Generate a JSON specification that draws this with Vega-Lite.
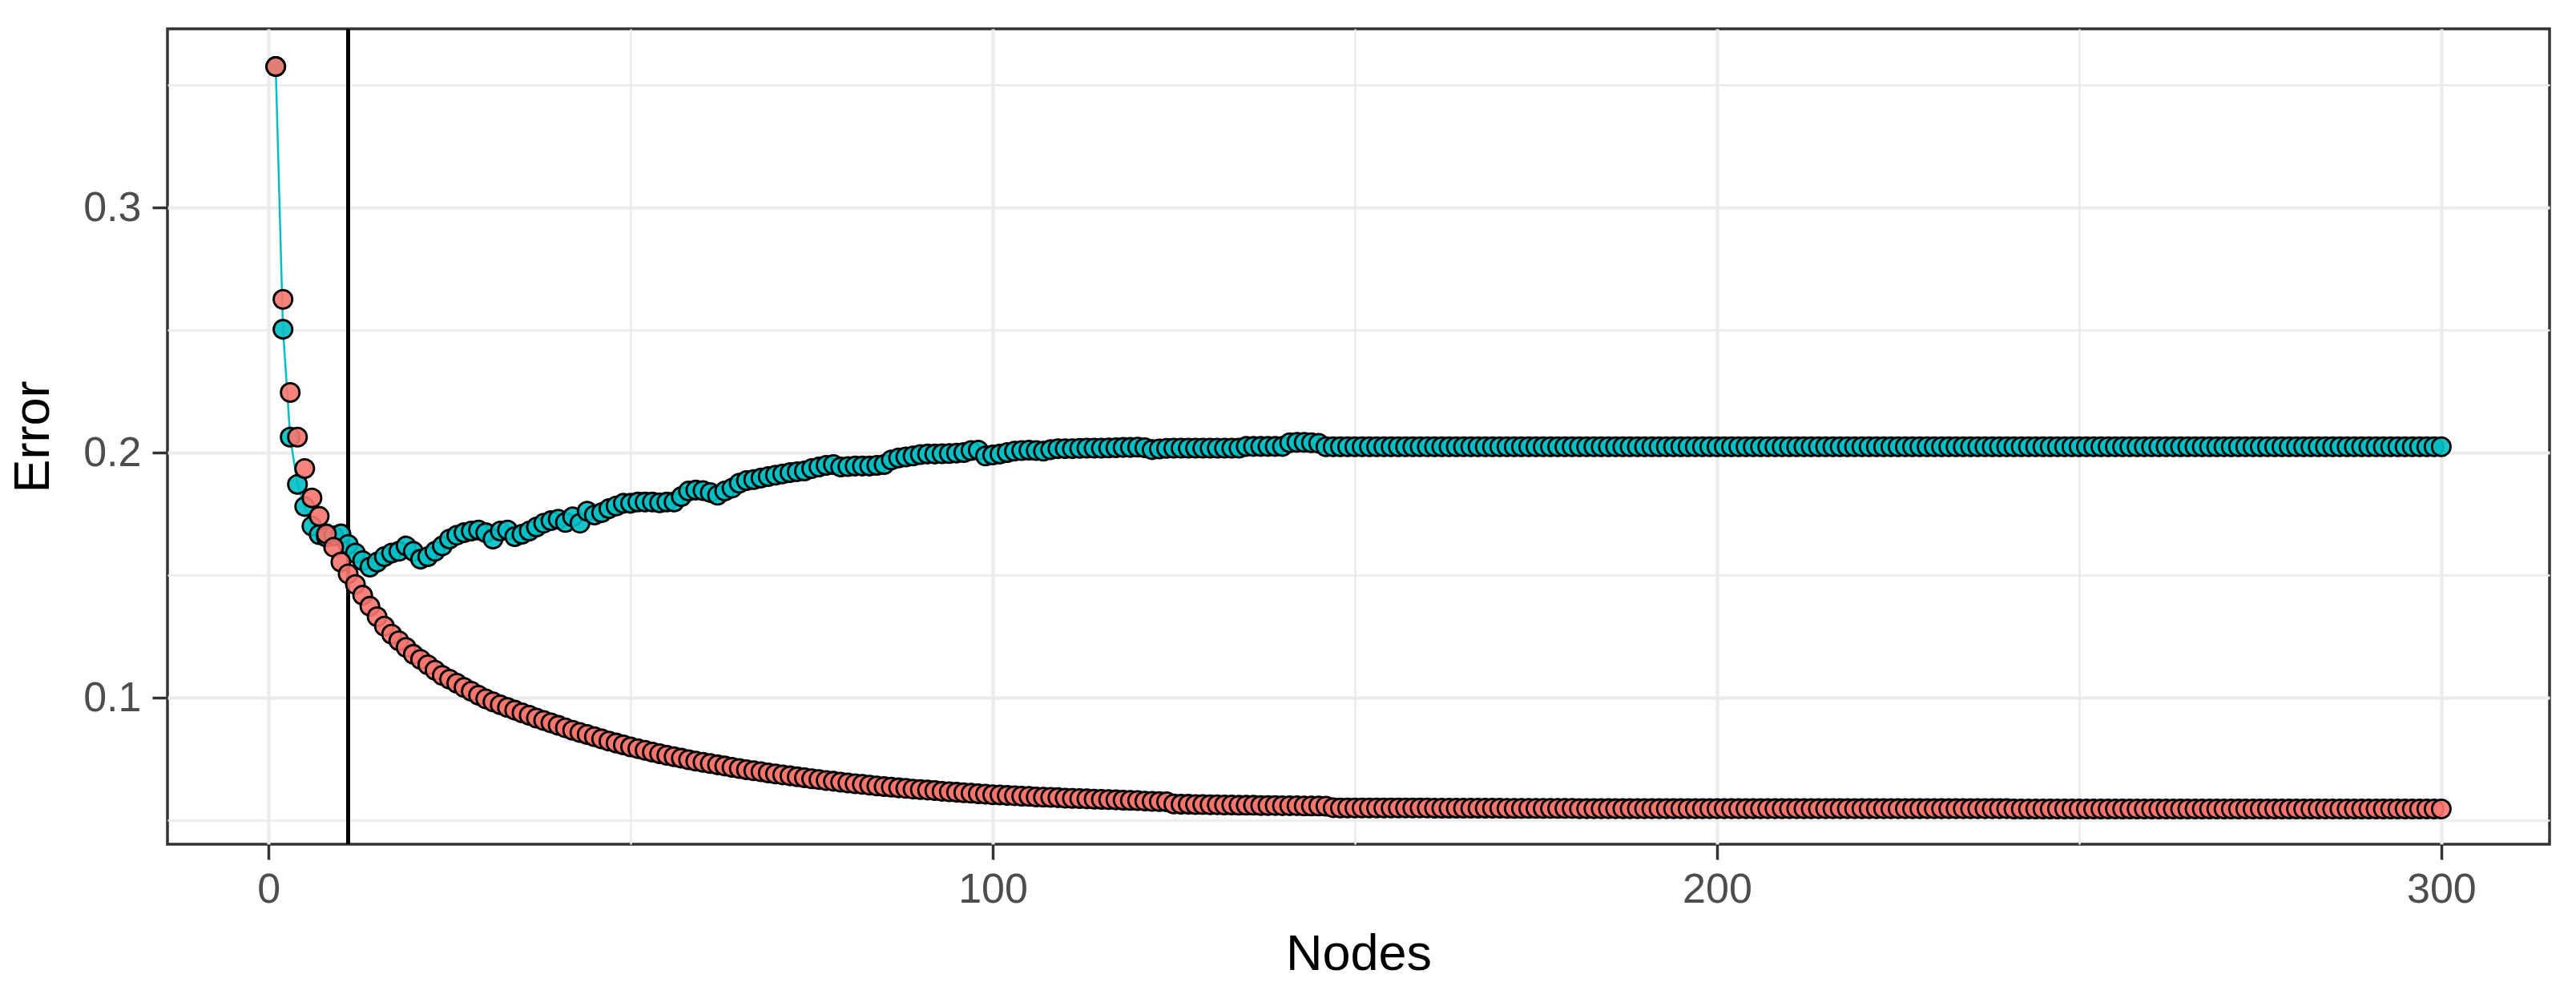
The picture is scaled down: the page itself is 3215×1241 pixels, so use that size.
{
  "$schema": "https://vega.github.io/schema/vega-lite/v6.json",
  "width": 2973,
  "height": 1018,
  "autosize": {"type": "none"},
  "padding": {"left": 209, "top": 36, "right": 33, "bottom": 187},
  "background": "white",
  "data": {
    "values": [
      {"n": 1, "Train": 0.3575, "Test": 0.3575},
      {"n": 2, "Train": 0.2625, "Test": 0.2503},
      {"n": 3, "Train": 0.2245, "Test": 0.2063},
      {"n": 4, "Train": 0.2063, "Test": 0.187},
      {"n": 5, "Train": 0.1935, "Test": 0.178},
      {"n": 6, "Train": 0.1815, "Test": 0.17},
      {"n": 7, "Train": 0.174, "Test": 0.1665},
      {"n": 8, "Train": 0.1668, "Test": 0.1655},
      {"n": 9, "Train": 0.1614, "Test": 0.166},
      {"n": 10, "Train": 0.1553, "Test": 0.1668},
      {"n": 11, "Train": 0.1505, "Test": 0.1625},
      {"n": 12, "Train": 0.1462, "Test": 0.159},
      {"n": 13, "Train": 0.1418, "Test": 0.1559},
      {"n": 14, "Train": 0.1373, "Test": 0.1533},
      {"n": 15, "Train": 0.133, "Test": 0.1553},
      {"n": 16, "Train": 0.1292, "Test": 0.1575},
      {"n": 17, "Train": 0.1259, "Test": 0.159},
      {"n": 18, "Train": 0.1232, "Test": 0.1597},
      {"n": 19, "Train": 0.1205, "Test": 0.1619},
      {"n": 20, "Train": 0.1177, "Test": 0.1597},
      {"n": 21, "Train": 0.1156, "Test": 0.1565},
      {"n": 22, "Train": 0.1134, "Test": 0.1575},
      {"n": 23, "Train": 0.1112, "Test": 0.1597},
      {"n": 24, "Train": 0.1091, "Test": 0.1619},
      {"n": 25, "Train": 0.1075, "Test": 0.1647},
      {"n": 26, "Train": 0.1059, "Test": 0.1663},
      {"n": 27, "Train": 0.1042, "Test": 0.1673},
      {"n": 28, "Train": 0.1026, "Test": 0.168},
      {"n": 29, "Train": 0.101, "Test": 0.1684},
      {"n": 30, "Train": 0.0995, "Test": 0.1673},
      {"n": 31, "Train": 0.0983, "Test": 0.1647},
      {"n": 32, "Train": 0.0971, "Test": 0.168},
      {"n": 33, "Train": 0.096, "Test": 0.1684},
      {"n": 34, "Train": 0.0949, "Test": 0.1657},
      {"n": 35, "Train": 0.0938, "Test": 0.1667},
      {"n": 36, "Train": 0.0928, "Test": 0.168},
      {"n": 37, "Train": 0.0917, "Test": 0.1696},
      {"n": 38, "Train": 0.0907, "Test": 0.1712},
      {"n": 39, "Train": 0.0897, "Test": 0.1722},
      {"n": 40, "Train": 0.0887, "Test": 0.1728},
      {"n": 41, "Train": 0.0877, "Test": 0.1715},
      {"n": 42, "Train": 0.0867, "Test": 0.1738},
      {"n": 43, "Train": 0.0858, "Test": 0.1712},
      {"n": 44, "Train": 0.085, "Test": 0.1761},
      {"n": 45, "Train": 0.0841, "Test": 0.1745},
      {"n": 46, "Train": 0.0832, "Test": 0.1755},
      {"n": 47, "Train": 0.0823, "Test": 0.1771},
      {"n": 48, "Train": 0.0815, "Test": 0.1782},
      {"n": 49, "Train": 0.0807, "Test": 0.1793},
      {"n": 50, "Train": 0.0799, "Test": 0.1793},
      {"n": 51, "Train": 0.0792, "Test": 0.1798},
      {"n": 52, "Train": 0.0785, "Test": 0.1798},
      {"n": 53, "Train": 0.0778, "Test": 0.1798},
      {"n": 54, "Train": 0.0771, "Test": 0.1795},
      {"n": 55, "Train": 0.0765, "Test": 0.1798},
      {"n": 56, "Train": 0.0759, "Test": 0.1798},
      {"n": 57, "Train": 0.0753, "Test": 0.182},
      {"n": 58, "Train": 0.0747, "Test": 0.1843},
      {"n": 59, "Train": 0.0741, "Test": 0.1847},
      {"n": 60, "Train": 0.0736, "Test": 0.1845},
      {"n": 61, "Train": 0.0731, "Test": 0.1837},
      {"n": 62, "Train": 0.0726, "Test": 0.1826},
      {"n": 63, "Train": 0.0721, "Test": 0.1843},
      {"n": 64, "Train": 0.0716, "Test": 0.1855},
      {"n": 65, "Train": 0.0711, "Test": 0.1875},
      {"n": 66, "Train": 0.0706, "Test": 0.1886},
      {"n": 67, "Train": 0.0702, "Test": 0.189},
      {"n": 68, "Train": 0.0698, "Test": 0.1896},
      {"n": 69, "Train": 0.0693, "Test": 0.1902},
      {"n": 70, "Train": 0.0689, "Test": 0.1908},
      {"n": 71, "Train": 0.0685, "Test": 0.1913},
      {"n": 72, "Train": 0.0681, "Test": 0.1918},
      {"n": 73, "Train": 0.0677, "Test": 0.1922},
      {"n": 74, "Train": 0.0673, "Test": 0.1925},
      {"n": 75, "Train": 0.0669, "Test": 0.1935},
      {"n": 76, "Train": 0.0666, "Test": 0.1941},
      {"n": 77, "Train": 0.0662, "Test": 0.1948},
      {"n": 78, "Train": 0.0659, "Test": 0.1951},
      {"n": 79, "Train": 0.0655, "Test": 0.1941},
      {"n": 80, "Train": 0.0652, "Test": 0.1943},
      {"n": 81, "Train": 0.0649, "Test": 0.1945},
      {"n": 82, "Train": 0.0646, "Test": 0.1945},
      {"n": 83, "Train": 0.0643, "Test": 0.1945},
      {"n": 84, "Train": 0.064, "Test": 0.1948},
      {"n": 85, "Train": 0.0637, "Test": 0.1951},
      {"n": 86, "Train": 0.0635, "Test": 0.197},
      {"n": 87, "Train": 0.0632, "Test": 0.1978},
      {"n": 88, "Train": 0.063, "Test": 0.1982},
      {"n": 89, "Train": 0.0627, "Test": 0.1986},
      {"n": 90, "Train": 0.0625, "Test": 0.1992},
      {"n": 91, "Train": 0.0623, "Test": 0.1994},
      {"n": 92, "Train": 0.0621, "Test": 0.1994},
      {"n": 93, "Train": 0.0618, "Test": 0.1995},
      {"n": 94, "Train": 0.0616, "Test": 0.1996},
      {"n": 95, "Train": 0.0614, "Test": 0.1998},
      {"n": 96, "Train": 0.0612, "Test": 0.2},
      {"n": 97, "Train": 0.061, "Test": 0.2008},
      {"n": 98, "Train": 0.0608, "Test": 0.201},
      {"n": 99, "Train": 0.0606, "Test": 0.1986},
      {"n": 100, "Train": 0.0604, "Test": 0.199},
      {"n": 101, "Train": 0.0603, "Test": 0.1994},
      {"n": 102, "Train": 0.0601, "Test": 0.2},
      {"n": 103, "Train": 0.06, "Test": 0.2006},
      {"n": 104, "Train": 0.0598, "Test": 0.2008},
      {"n": 105, "Train": 0.0597, "Test": 0.201},
      {"n": 106, "Train": 0.0595, "Test": 0.2008},
      {"n": 107, "Train": 0.0594, "Test": 0.2006},
      {"n": 108, "Train": 0.0593, "Test": 0.2012},
      {"n": 109, "Train": 0.0592, "Test": 0.2016},
      {"n": 110, "Train": 0.059, "Test": 0.2016},
      {"n": 111, "Train": 0.0589, "Test": 0.2016},
      {"n": 112, "Train": 0.0588, "Test": 0.2017},
      {"n": 113, "Train": 0.0587, "Test": 0.2018},
      {"n": 114, "Train": 0.0586, "Test": 0.2018},
      {"n": 115, "Train": 0.0585, "Test": 0.2018},
      {"n": 116, "Train": 0.0584, "Test": 0.2019},
      {"n": 117, "Train": 0.0583, "Test": 0.202},
      {"n": 118, "Train": 0.0582, "Test": 0.2021},
      {"n": 119, "Train": 0.0581, "Test": 0.2021},
      {"n": 120, "Train": 0.058, "Test": 0.2022},
      {"n": 121, "Train": 0.0578, "Test": 0.202},
      {"n": 122, "Train": 0.0577, "Test": 0.2012},
      {"n": 123, "Train": 0.0576, "Test": 0.2015},
      {"n": 124, "Train": 0.0575, "Test": 0.2017},
      {"n": 125, "Train": 0.0566, "Test": 0.2018},
      {"n": 126, "Train": 0.0565, "Test": 0.2018},
      {"n": 127, "Train": 0.0565, "Test": 0.2018},
      {"n": 128, "Train": 0.0564, "Test": 0.2018},
      {"n": 129, "Train": 0.0564, "Test": 0.2018},
      {"n": 130, "Train": 0.0563, "Test": 0.2018},
      {"n": 131, "Train": 0.0563, "Test": 0.2018},
      {"n": 132, "Train": 0.0562, "Test": 0.2018},
      {"n": 133, "Train": 0.0562, "Test": 0.2018},
      {"n": 134, "Train": 0.0561, "Test": 0.2018},
      {"n": 135, "Train": 0.0561, "Test": 0.2025},
      {"n": 136, "Train": 0.0561, "Test": 0.2025},
      {"n": 137, "Train": 0.056, "Test": 0.2025},
      {"n": 138, "Train": 0.056, "Test": 0.2025},
      {"n": 139, "Train": 0.056, "Test": 0.2025},
      {"n": 140, "Train": 0.0559, "Test": 0.2025},
      {"n": 141, "Train": 0.0559, "Test": 0.204},
      {"n": 142, "Train": 0.0559, "Test": 0.2042},
      {"n": 143, "Train": 0.0558, "Test": 0.2042},
      {"n": 144, "Train": 0.0558, "Test": 0.204},
      {"n": 145, "Train": 0.0558, "Test": 0.2038},
      {"n": 146, "Train": 0.0557, "Test": 0.2024},
      {"n": 147, "Train": 0.0551, "Test": 0.2024},
      {"n": 148, "Train": 0.055, "Test": 0.2024},
      {"n": 149, "Train": 0.055, "Test": 0.2024},
      {"n": 150, "Train": 0.055, "Test": 0.2024},
      {"n": 151, "Train": 0.055, "Test": 0.2024},
      {"n": 152, "Train": 0.055, "Test": 0.2024},
      {"n": 153, "Train": 0.055, "Test": 0.2024},
      {"n": 154, "Train": 0.055, "Test": 0.2024},
      {"n": 155, "Train": 0.055, "Test": 0.2024},
      {"n": 156, "Train": 0.055, "Test": 0.2024},
      {"n": 157, "Train": 0.055, "Test": 0.2024},
      {"n": 158, "Train": 0.055, "Test": 0.2024},
      {"n": 159, "Train": 0.055, "Test": 0.2024},
      {"n": 160, "Train": 0.055, "Test": 0.2024},
      {"n": 161, "Train": 0.0549, "Test": 0.2024},
      {"n": 162, "Train": 0.0549, "Test": 0.2024},
      {"n": 163, "Train": 0.0549, "Test": 0.2024},
      {"n": 164, "Train": 0.0549, "Test": 0.2024},
      {"n": 165, "Train": 0.0549, "Test": 0.2024},
      {"n": 166, "Train": 0.0549, "Test": 0.2024},
      {"n": 167, "Train": 0.0549, "Test": 0.2024},
      {"n": 168, "Train": 0.0549, "Test": 0.2024},
      {"n": 169, "Train": 0.0549, "Test": 0.2024},
      {"n": 170, "Train": 0.0549, "Test": 0.2024},
      {"n": 171, "Train": 0.0548, "Test": 0.2024},
      {"n": 172, "Train": 0.0548, "Test": 0.2024},
      {"n": 173, "Train": 0.0548, "Test": 0.2024},
      {"n": 174, "Train": 0.0548, "Test": 0.2024},
      {"n": 175, "Train": 0.0548, "Test": 0.2024},
      {"n": 176, "Train": 0.0548, "Test": 0.2024},
      {"n": 177, "Train": 0.0548, "Test": 0.2024},
      {"n": 178, "Train": 0.0548, "Test": 0.2024},
      {"n": 179, "Train": 0.0548, "Test": 0.2024},
      {"n": 180, "Train": 0.0548, "Test": 0.2024},
      {"n": 181, "Train": 0.0547, "Test": 0.2024},
      {"n": 182, "Train": 0.0547, "Test": 0.2024},
      {"n": 183, "Train": 0.0547, "Test": 0.2024},
      {"n": 184, "Train": 0.0547, "Test": 0.2024},
      {"n": 185, "Train": 0.0547, "Test": 0.2024},
      {"n": 186, "Train": 0.0547, "Test": 0.2024},
      {"n": 187, "Train": 0.0547, "Test": 0.2024},
      {"n": 188, "Train": 0.0547, "Test": 0.2024},
      {"n": 189, "Train": 0.0547, "Test": 0.2024},
      {"n": 190, "Train": 0.0547, "Test": 0.2024},
      {"n": 191, "Train": 0.0547, "Test": 0.2024},
      {"n": 192, "Train": 0.0547, "Test": 0.2024},
      {"n": 193, "Train": 0.0547, "Test": 0.2024},
      {"n": 194, "Train": 0.0547, "Test": 0.2024},
      {"n": 195, "Train": 0.0547, "Test": 0.2024},
      {"n": 196, "Train": 0.0547, "Test": 0.2024},
      {"n": 197, "Train": 0.0547, "Test": 0.2024},
      {"n": 198, "Train": 0.0547, "Test": 0.2024},
      {"n": 199, "Train": 0.0547, "Test": 0.2024},
      {"n": 200, "Train": 0.0547, "Test": 0.2024},
      {"n": 201, "Train": 0.0547, "Test": 0.2024},
      {"n": 202, "Train": 0.0547, "Test": 0.2024},
      {"n": 203, "Train": 0.0547, "Test": 0.2024},
      {"n": 204, "Train": 0.0547, "Test": 0.2024},
      {"n": 205, "Train": 0.0547, "Test": 0.2024},
      {"n": 206, "Train": 0.0547, "Test": 0.2024},
      {"n": 207, "Train": 0.0547, "Test": 0.2024},
      {"n": 208, "Train": 0.0547, "Test": 0.2024},
      {"n": 209, "Train": 0.0547, "Test": 0.2024},
      {"n": 210, "Train": 0.0547, "Test": 0.2024},
      {"n": 211, "Train": 0.0547, "Test": 0.2024},
      {"n": 212, "Train": 0.0547, "Test": 0.2024},
      {"n": 213, "Train": 0.0547, "Test": 0.2024},
      {"n": 214, "Train": 0.0547, "Test": 0.2024},
      {"n": 215, "Train": 0.0547, "Test": 0.2024},
      {"n": 216, "Train": 0.0547, "Test": 0.2024},
      {"n": 217, "Train": 0.0547, "Test": 0.2024},
      {"n": 218, "Train": 0.0547, "Test": 0.2024},
      {"n": 219, "Train": 0.0547, "Test": 0.2024},
      {"n": 220, "Train": 0.0547, "Test": 0.2024},
      {"n": 221, "Train": 0.0547, "Test": 0.2024},
      {"n": 222, "Train": 0.0547, "Test": 0.2024},
      {"n": 223, "Train": 0.0547, "Test": 0.2024},
      {"n": 224, "Train": 0.0547, "Test": 0.2024},
      {"n": 225, "Train": 0.0547, "Test": 0.2024},
      {"n": 226, "Train": 0.0547, "Test": 0.2024},
      {"n": 227, "Train": 0.0547, "Test": 0.2024},
      {"n": 228, "Train": 0.0547, "Test": 0.2024},
      {"n": 229, "Train": 0.0547, "Test": 0.2024},
      {"n": 230, "Train": 0.0547, "Test": 0.2024},
      {"n": 231, "Train": 0.0547, "Test": 0.2024},
      {"n": 232, "Train": 0.0547, "Test": 0.2024},
      {"n": 233, "Train": 0.0547, "Test": 0.2024},
      {"n": 234, "Train": 0.0547, "Test": 0.2024},
      {"n": 235, "Train": 0.0547, "Test": 0.2024},
      {"n": 236, "Train": 0.0547, "Test": 0.2024},
      {"n": 237, "Train": 0.0547, "Test": 0.2024},
      {"n": 238, "Train": 0.0547, "Test": 0.2024},
      {"n": 239, "Train": 0.0547, "Test": 0.2024},
      {"n": 240, "Train": 0.0547, "Test": 0.2024},
      {"n": 241, "Train": 0.0546, "Test": 0.2024},
      {"n": 242, "Train": 0.0546, "Test": 0.2024},
      {"n": 243, "Train": 0.0546, "Test": 0.2024},
      {"n": 244, "Train": 0.0546, "Test": 0.2024},
      {"n": 245, "Train": 0.0546, "Test": 0.2024},
      {"n": 246, "Train": 0.0546, "Test": 0.2024},
      {"n": 247, "Train": 0.0546, "Test": 0.2024},
      {"n": 248, "Train": 0.0546, "Test": 0.2024},
      {"n": 249, "Train": 0.0546, "Test": 0.2024},
      {"n": 250, "Train": 0.0546, "Test": 0.2024},
      {"n": 251, "Train": 0.0546, "Test": 0.2024},
      {"n": 252, "Train": 0.0546, "Test": 0.2024},
      {"n": 253, "Train": 0.0546, "Test": 0.2024},
      {"n": 254, "Train": 0.0546, "Test": 0.2024},
      {"n": 255, "Train": 0.0546, "Test": 0.2024},
      {"n": 256, "Train": 0.0546, "Test": 0.2024},
      {"n": 257, "Train": 0.0546, "Test": 0.2024},
      {"n": 258, "Train": 0.0546, "Test": 0.2024},
      {"n": 259, "Train": 0.0546, "Test": 0.2024},
      {"n": 260, "Train": 0.0546, "Test": 0.2024},
      {"n": 261, "Train": 0.0546, "Test": 0.2024},
      {"n": 262, "Train": 0.0546, "Test": 0.2024},
      {"n": 263, "Train": 0.0546, "Test": 0.2024},
      {"n": 264, "Train": 0.0546, "Test": 0.2024},
      {"n": 265, "Train": 0.0546, "Test": 0.2024},
      {"n": 266, "Train": 0.0546, "Test": 0.2024},
      {"n": 267, "Train": 0.0546, "Test": 0.2024},
      {"n": 268, "Train": 0.0546, "Test": 0.2024},
      {"n": 269, "Train": 0.0546, "Test": 0.2024},
      {"n": 270, "Train": 0.0546, "Test": 0.2024},
      {"n": 271, "Train": 0.0546, "Test": 0.2024},
      {"n": 272, "Train": 0.0546, "Test": 0.2024},
      {"n": 273, "Train": 0.0546, "Test": 0.2024},
      {"n": 274, "Train": 0.0546, "Test": 0.2024},
      {"n": 275, "Train": 0.0546, "Test": 0.2024},
      {"n": 276, "Train": 0.0546, "Test": 0.2024},
      {"n": 277, "Train": 0.0546, "Test": 0.2024},
      {"n": 278, "Train": 0.0546, "Test": 0.2024},
      {"n": 279, "Train": 0.0546, "Test": 0.2024},
      {"n": 280, "Train": 0.0546, "Test": 0.2024},
      {"n": 281, "Train": 0.0546, "Test": 0.2024},
      {"n": 282, "Train": 0.0546, "Test": 0.2024},
      {"n": 283, "Train": 0.0546, "Test": 0.2024},
      {"n": 284, "Train": 0.0546, "Test": 0.2024},
      {"n": 285, "Train": 0.0546, "Test": 0.2024},
      {"n": 286, "Train": 0.0546, "Test": 0.2024},
      {"n": 287, "Train": 0.0546, "Test": 0.2024},
      {"n": 288, "Train": 0.0546, "Test": 0.2024},
      {"n": 289, "Train": 0.0546, "Test": 0.2024},
      {"n": 290, "Train": 0.0546, "Test": 0.2024},
      {"n": 291, "Train": 0.0546, "Test": 0.2024},
      {"n": 292, "Train": 0.0546, "Test": 0.2024},
      {"n": 293, "Train": 0.0546, "Test": 0.2024},
      {"n": 294, "Train": 0.0546, "Test": 0.2024},
      {"n": 295, "Train": 0.0546, "Test": 0.2024},
      {"n": 296, "Train": 0.0546, "Test": 0.2024},
      {"n": 297, "Train": 0.0546, "Test": 0.2024},
      {"n": 298, "Train": 0.0546, "Test": 0.2024},
      {"n": 299, "Train": 0.0546, "Test": 0.2024},
      {"n": 300, "Train": 0.0546, "Test": 0.2024}
    ]
  },
  "transform": [
    {"fold": ["Test", "Train"], "as": ["Set", "Error"]}
  ],
  "encoding": {
    "x": {
      "field": "n",
      "type": "quantitative",
      "title": "Nodes",
      "scale": {"domain": [-13.95, 314.95], "nice": false, "zero": false},
      "axis": {
        "values": [0, 50, 100, 150, 200, 250, 300],
        "labelExpr": "datum.value % 100 === 0 ? datum.label : ''",
        "gridWidth": {"condition": {"test": "datum.value % 100 === 0", "value": 4}, "value": 2.5},
        "tickOpacity": {"condition": {"test": "datum.value % 100 === 0", "value": 1}, "value": 0},
        "labelPadding": 12,
        "titlePadding": 24
      }
    },
    "y": {
      "field": "Error",
      "type": "quantitative",
      "title": "Error",
      "scale": {"domain": [0.0402, 0.3729], "nice": false, "zero": false},
      "axis": {
        "values": [0.05, 0.1, 0.15, 0.2, 0.25, 0.3, 0.35],
        "labelExpr": "round(datum.value * 100) % 10 === 0 ? format(datum.value, '.1f') : ''",
        "gridWidth": {"condition": {"test": "round(datum.value * 100) % 10 === 0", "value": 4}, "value": 2.5},
        "tickOpacity": {"condition": {"test": "round(datum.value * 100) % 10 === 0", "value": 1}, "value": 0},
        "labelPadding": 14,
        "titlePadding": 30
      }
    }
  },
  "layer": [
    {
      "transform": [{"filter": "datum.Set === 'Test'"}],
      "mark": {"type": "line", "color": "#00BFC4", "strokeWidth": 2.5}
    },
    {
      "mark": {"type": "rule", "color": "black", "strokeWidth": 4},
      "encoding": {"x": {"datum": 11}, "y": null}
    },
    {
      "mark": {
        "type": "point",
        "shape": "circle",
        "filled": true,
        "size": 540,
        "stroke": "black",
        "strokeWidth": 2.8,
        "fillOpacity": 0.9,
        "strokeOpacity": 1
      },
      "encoding": {
        "fill": {
          "field": "Set",
          "type": "nominal",
          "scale": {"domain": ["Test", "Train"], "range": ["#00BFC4", "#F8766D"]},
          "legend": null
        },
        "order": {"field": "Set", "sort": "ascending"}
      }
    }
  ],
  "view": {"stroke": "#333333", "strokeWidth": 3.5},
  "config": {
    "font": "Liberation Sans",
    "axis": {
      "grid": true,
      "gridColor": "#EBEBEB",
      "domain": false,
      "tickColor": "#333333",
      "tickSize": 19,
      "tickWidth": 3.5,
      "labelFont": "Liberation Sans",
      "labelFontSize": 52,
      "labelColor": "#4D4D4D",
      "titleFont": "Liberation Sans",
      "titleFontSize": 63,
      "titleFontWeight": "normal",
      "titleColor": "black"
    }
  }
}
